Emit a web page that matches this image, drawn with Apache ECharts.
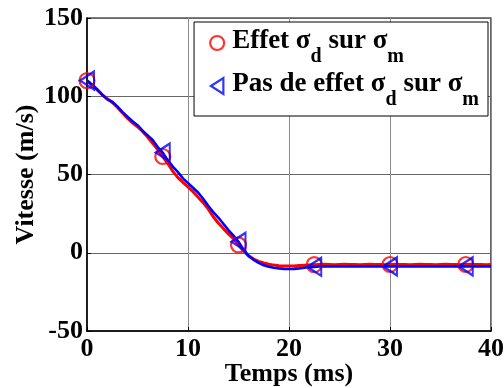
<!DOCTYPE html>
<html>
<head>
<meta charset="utf-8">
<style>html,body{margin:0;padding:0;background:#fff;}#c{width:504px;height:388px;}</style>
<script src="https://cdn.jsdelivr.net/npm/echarts@6/dist/echarts.min.js"></script>
</head>
<body>
<div id="c"></div>
<script>
// time samples (ms), 0.5 ms step
const tStep = 0.5;
// Red: "Effet σd sur σm"
const redValues = [
  110,107,104,101,98.5,96,93,89.5,86,83,
  80.5,77.5,74,70,66,61.5,57,52,48,45,
  42,39,35.5,32,28,23,19,15.5,12,9,
  5,1,-2,-4,-5.5,-6.5,-7.3,-7.9,-8.3,-8.5,
  -8.5,-8.4,-8.2,-8,-7.8,-7.6,-7.5,-7.4,-7.5,-7.6,
  -7.5,-7.4,-7.5,-7.5,-7.6,-7.5,-7.4,-7.5,-7.5,-7.6,
  -7.5,-7.4,-7.5,-7.5,-7.6,-7.5,-7.4,-7.5,-7.5,-7.6,
  -7.5,-7.4,-7.5,-7.5,-7.6,-7.5,-7.4,-7.5,-7.5,-7.6,
  -7.5
];
// Blue: "Pas de effet σd sur σm"
const blueValues = [
  110,107.5,104.5,101,98,96.5,93.5,90,87,84,
  81.5,78,75,72,67.5,64,59,55,51.5,47.5,
  44.5,41.5,38.5,34.5,30,26,22.5,18.5,14.5,11,
  7,2,-2,-4.5,-6.5,-8,-9,-9.6,-10,-10.3,
  -10.4,-10.3,-10,-9.6,-9.3,-9,-8.8,-8.7,-8.8,-8.6,
  -8.7,-8.8,-8.7,-8.6,-8.7,-8.8,-8.7,-8.7,-8.6,-8.8,
  -8.7,-8.6,-8.7,-8.8,-8.7,-8.6,-8.7,-8.7,-8.8,-8.6,
  -8.7,-8.7,-8.8,-8.7,-8.6,-8.7,-8.8,-8.7,-8.7,-8.6,
  -8.7
];
// marker sample indices (every 7.5 ms)
const markerIdx = [0,15,30,45,60,75];
const xTicks = {min:0, max:40, interval:10};
const yTicks = {min:-50, max:150, interval:50};
const seriesNames = ['Effet', 'Pas de effet'];
const xName = 'Temps (ms)';
const yName = 'Vitesse (m/s)';

const FONT = 'Liberation Serif';
const toPts = vals => vals.map((v,i)=>[i*tStep, v]);
const toMarks = vals => markerIdx.map(i=>[i*tStep, vals[i]]);
const triPath = 'path://M0,9L14,0L14,18Z';

const chart = echarts.init(document.getElementById('c'), null, {renderer:'canvas'});
const axisLabel = {fontSize:26, fontWeight:'bold', color:'#000', fontFamily:FONT};
chart.setOption({
  animation:false,
  backgroundColor:'#fff',
  grid:{left:87, right:13, top:18, bottom:57, outerBoundsMode:'none', containLabel:false,
    show:true, borderColor:'#000', borderWidth:1.2, backgroundColor:'transparent'},
  xAxis:{type:'value', min:xTicks.min, max:xTicks.max, interval:xTicks.interval,
    axisLine:{show:true, onZero:false, lineStyle:{color:'#000', width:1.5}},
    axisTick:{show:true, inside:true, length:4, lineStyle:{color:'#000'}},
    splitLine:{show:true, lineStyle:{color:'#8c8c8c', width:1}},
    axisLabel:Object.assign({margin:5}, axisLabel),
    name:xName, nameLocation:'middle', nameGap:30, nameMoveOverlap:false,
    nameTextStyle:{fontSize:26, fontWeight:'bold', color:'#000', fontFamily:FONT}
  },
  yAxis:{type:'value', min:yTicks.min, max:yTicks.max, interval:yTicks.interval,
    axisLine:{show:true, onZero:false, lineStyle:{color:'#000', width:1.5}},
    axisTick:{show:true, inside:true, length:4, lineStyle:{color:'#000'}},
    splitLine:{show:true, lineStyle:{color:'#666', width:1}},
    axisLabel:Object.assign({margin:4}, axisLabel),
    name:yName, nameLocation:'middle', nameGap:48, nameMoveOverlap:false,
    nameTextStyle:{fontSize:26, fontWeight:'bold', color:'#000', fontFamily:FONT}
  },
  legend:{
    orient:'vertical', right:16, top:22,
    backgroundColor:'#fff', borderColor:'#000', borderWidth:1,
    padding:[6,9,6,15], itemGap:4, itemWidth:14, itemHeight:16,
    selectedMode:false,
    data:[
      {name:seriesNames[0], icon:'circle', itemStyle:{color:'rgba(0,0,0,0)', borderColor:'#ff0000', borderWidth:2.2}},
      {name:seriesNames[1], icon:triPath, itemStyle:{color:'rgba(0,0,0,0)', borderColor:'#0000ff', borderWidth:2.2}}
    ],
    formatter: n => n===seriesNames[0]
      ? '{t|Effet σ}{s|d}{t| sur σ}{s|m}'
      : '{t|Pas de effet σ}{s|d}{t| sur σ}{s|m}',
    textStyle:{
      color:'#000', fontFamily:FONT, fontWeight:'bold', fontSize:27, padding:[0,0,0,3],
      rich:{
        t:{fontSize:27, fontWeight:'bold', fontFamily:FONT, color:'#000', lineHeight:30, verticalAlign:'top'},
        s:{fontSize:20, fontWeight:'bold', fontFamily:FONT, color:'#000', lineHeight:20, padding:[19,0,0,0], verticalAlign:'top'}
      }
    }
  },
  series:[
    {name:'redLine', type:'line', data:toPts(redValues), showSymbol:false, symbol:'none',
      lineStyle:{color:'#ff0000', width:3}, z:2},
    {name:'blueLine', type:'line', data:toPts(blueValues), showSymbol:false, symbol:'none',
      lineStyle:{color:'#0000ff', width:2.6}, z:3},
    {name:seriesNames[0], type:'scatter', data:toMarks(redValues), symbol:'circle', symbolSize:15, clip:false,
      itemStyle:{color:'rgba(0,0,0,0)', borderColor:'#ff0000', borderWidth:2.2}, z:4},
    {name:seriesNames[1], type:'scatter', data:toMarks(blueValues), symbol:triPath, symbolSize:[14,18], clip:false,
      itemStyle:{color:'rgba(0,0,0,0)', borderColor:'#0000ff', borderWidth:2.2}, z:5}
  ]
});
</script>
</body>
</html>
